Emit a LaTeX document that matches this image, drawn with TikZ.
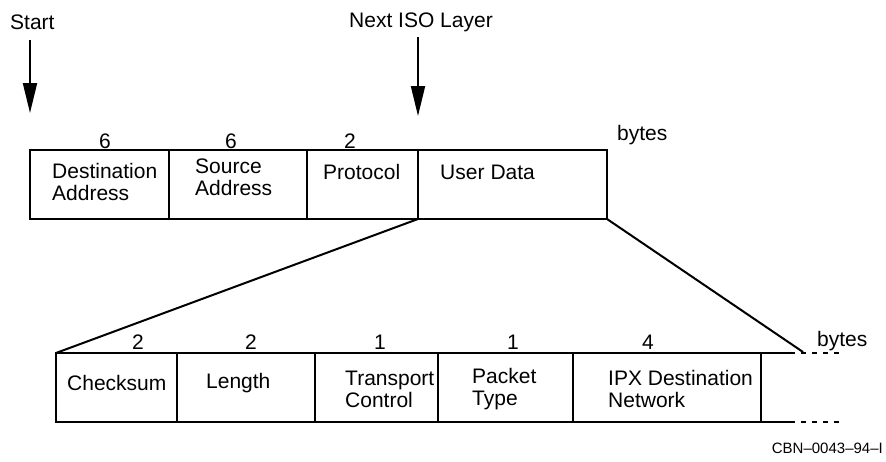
\documentclass[tikz,border=0pt]{standalone}
\usepackage{fontspec}
\setmainfont{Liberation Sans}
\usetikzlibrary{arrows.meta}
\begin{document}
\begin{tikzpicture}[x=1pt,y=-1pt,
  fieldbox/.style={draw, line width=2pt, inner sep=0pt, outer sep=0pt},
  txt/.style={font=\fontsize{21}{22}\selectfont, inner sep=0pt, align=left},
  small/.style={font=\fontsize{15}{16}\selectfont, inner sep=0pt},
  pointer/.style={line width=2pt, -{Triangle[length=30pt,width=14pt]}},
  zoomline/.style={line width=2pt}]
\useasboundingbox (0,0) rectangle (886,461);

% upper frame: Ethernet header
\node[fieldbox, minimum width=139pt, minimum height=69pt, anchor=north west] (dst) at (30,150) {};
\node[fieldbox, minimum width=138pt, minimum height=69pt, anchor=north west] (src) at (169,150) {};
\node[fieldbox, minimum width=111pt, minimum height=69pt, anchor=north west] (proto) at (307,150) {};
\node[fieldbox, minimum width=189pt, minimum height=69pt, anchor=north west] (user) at (418,150) {};

\node[txt, anchor=west] (tdst) at (52,182) {Destination\\Address};
\node[txt, anchor=west] (tsrc) at (195,177) {Source\\Address};
\node[txt, anchor=west] (tproto) at (323,172) {Protocol};
\node[txt, anchor=west] (tuser) at (440,172) {User\hspace{6pt}Data};

\node[txt] (n1) at (105,141) {6};
\node[txt] (n2) at (231,141) {6};
\node[txt] (n3) at (350,141) {2};
\node[txt, anchor=west] (b1) at (617,135) {bytes};

% arrows
\node[txt, anchor=west] (start) at (10,22) {Start};
\coordinate (starttop) at (30,40);
\coordinate (startend) at (30,113);
\draw[pointer] (starttop) -- (startend);

\node[txt] (iso) at (421,22) {Next ISO Layer};
\coordinate (isotop) at (418,37);
\coordinate (isoend) at (418,116);
\draw[pointer] (isotop) -- (isoend);

% lower frame: IPX header
\node[fieldbox, minimum width=121pt, minimum height=69pt, anchor=north west] (chk) at (56,353) {};
\node[fieldbox, minimum width=138pt, minimum height=69pt, anchor=north west] (len) at (177,353) {};
\node[fieldbox, minimum width=123pt, minimum height=69pt, anchor=north west] (tc) at (315,353) {};
\node[fieldbox, minimum width=135pt, minimum height=69pt, anchor=north west] (pt) at (438,353) {};
\node[fieldbox, minimum width=188pt, minimum height=69pt, anchor=north west] (ipx) at (573,353) {};

\coordinate (topsolid) at (790,353);
\coordinate (topend) at (843,353);
\coordinate (botsolid) at (790,422);
\coordinate (botend) at (843,422);
\draw[line width=2pt] (ipx.north east) -- (topsolid);
\draw[line width=2pt, dash pattern=on 5pt off 6pt] (topsolid) -- (topend);
\draw[line width=2pt] (ipx.south east) -- (botsolid);
\draw[line width=2pt, dash pattern=on 5pt off 6pt] (botsolid) -- (botend);

\node[txt, anchor=west] (tchk) at (67,383) {Checksum};
\node[txt, anchor=west] (tlen) at (206,383) {Length};
\node[txt, anchor=west] (ttc) at (345,389) {Transport\\Control};
\node[txt, anchor=west] (tpt) at (472,389) {Packet\\Type};
\node[txt, anchor=west] (tipx) at (608,389) {IPX Destination\\Network};

\node[txt] (m1) at (138,342) {2};
\node[txt] (m2) at (251,342) {2};
\node[txt] (m3) at (380,342) {1};
\node[txt] (m4) at (513,342) {1};
\node[txt] (m5) at (648,342) {4};
\node[txt, anchor=west] (b2) at (817,341) {bytes};

% expansion lines
\coordinate (zoomend) at (803,352);
\draw[zoomline] (user.south west) -- (chk.north west);
\draw[zoomline] (user.south east) -- (zoomend);

\node[small, anchor=east] (tag) at (883,448) {CBN–0043–94–I};
\end{tikzpicture}
\end{document}
